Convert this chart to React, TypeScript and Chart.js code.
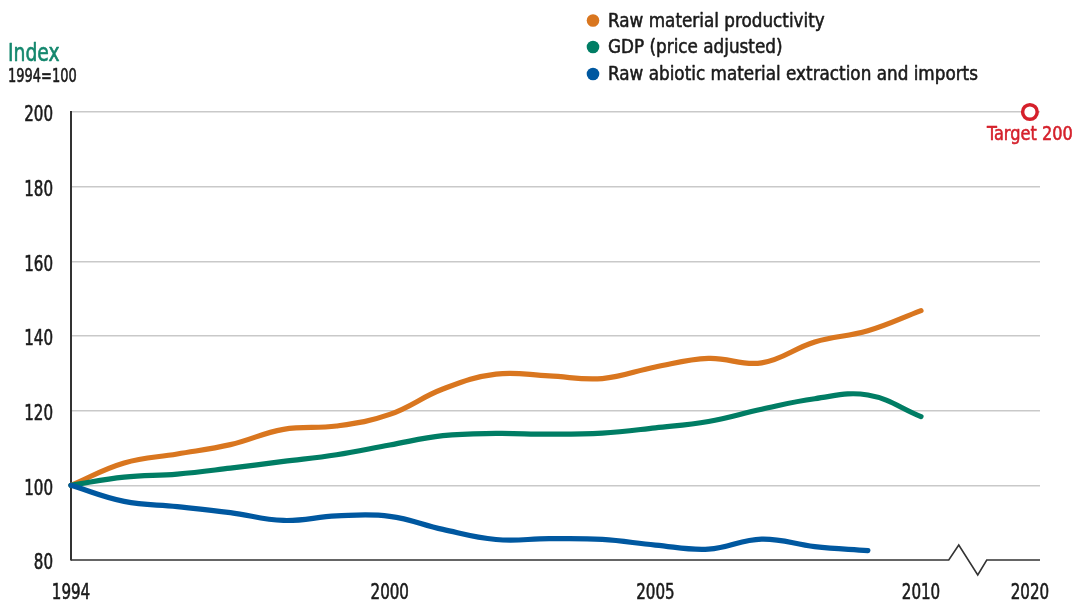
import React, { useEffect, useRef } from "react";
import { Chart, registerables } from "chart.js";

Chart.register(...registerables);

// ---- data ----
const YEARS = [1994, 1995, 1996, 1997, 1998, 1999, 2000, 2001, 2002, 2003, 2004, 2005, 2006, 2007, 2008, 2009, 2010];
const PRODUCTIVITY = [100, 106.0, 108.4, 110.9, 115.0, 115.9, 119.0, 125.8, 129.8, 129.3, 128.6, 131.7, 134.0, 132.8, 138.4, 141.4, 146.8];
const GDP = [100, 102.2, 103.0, 104.6, 106.4, 108.2, 110.8, 113.3, 113.9, 113.7, 114.0, 115.4, 117.1, 120.4, 123.2, 124.2, 118.4];
const EXTRACTION = [100, 95.7, 94.3, 92.7, 90.6, 91.8, 91.7, 88.2, 85.5, 85.7, 85.5, 84.0, 82.9, 85.6, 83.6, 82.5];
const SERIES_LABELS = ["Raw material productivity", "GDP (price adjusted)", "Raw abiotic material extraction and imports"];
const SERIES_COLORS = ["#d9761f", "#007d64", "#0058a0"];
const Y_TICKS = [80, 100, 120, 140, 160, 180, 200];
const X_TICK_YEARS = [1994, 2000, 2005, 2010, 2020];
const TARGET_YEAR = 2020;
const TARGET_VALUE = 200;
const TARGET_LABEL = "Target 200";
const TARGET_COLOR = "#d5202b";
const AXIS_TITLE = "Index";
const AXIS_SUBTITLE = "1994=100";

// axis break: years hidden between 2010 and 2020
const HIDDEN_YEARS = 7.95;
const BREAK_YEAR = 2010.88;
const X_MIN = 1994;
const X_MAX = 2012.24;
const toAxis = (yr: number) => (yr > 2011 ? yr - HIDDEN_YEARS : yr);
const fromAxis = (v: number) => (v > 2011.5 ? v + HIDDEN_YEARS : v);

const FONT = '"DejaVu Sans Condensed", "DejaVu Sans", sans-serif';
const TICK_SX = 0.8; // horizontal condensing of the typeface
const TEXT_STROKE = 0.55;

// draw text horizontally condensed (the original uses a condensed face)
function installCondensedText(ctx: any) {
  if (ctx.__condensed) return;
  ctx.__condensed = true;
  ctx.__sx = TICK_SX;
  const wrap = (orig: any) =>
    function (this: any, text: string, x: number, y: number, maxWidth?: number) {
      const sx = this.__sx || 1;
      this.save();
      this.translate(x, y);
      this.scale(sx, 1);
      if (maxWidth === undefined) orig.call(this, text, 0, 0);
      else orig.call(this, text, 0, 0, maxWidth / sx);
      this.restore();
    };
  ctx.fillText = wrap(ctx.fillText);
  ctx.strokeText = wrap(ctx.strokeText);
}

function boldText(ctx: any, text: string, x: number, y: number) {
  ctx.strokeStyle = ctx.fillStyle;
  ctx.lineWidth = TEXT_STROKE;
  ctx.lineJoin = "round";
  ctx.strokeText(text, x, y);
  ctx.fillText(text, x, y);
}

const decorPlugin = {
  id: "decor",
  beforeDraw(chart: any) {
    installCondensedText(chart.ctx);
    chart.ctx.__sx = TICK_SX;
  },
  beforeDatasetsDraw(chart: any) {
    const { ctx, chartArea, scales } = chart;
    const y0 = scales.y.getPixelForValue(80);
    const bx = scales.x.getPixelForValue(BREAK_YEAR);
    ctx.save();
    ctx.strokeStyle = "#333333";
    ctx.lineWidth = 1.6;
    ctx.lineJoin = "miter";
    ctx.beginPath();
    ctx.moveTo(chartArea.left, y0);
    ctx.lineTo(bx - 19, y0);
    ctx.lineTo(bx - 9, y0 - 15);
    ctx.lineTo(bx + 10, y0 + 15);
    ctx.lineTo(bx + 19, y0);
    ctx.lineTo(chartArea.right, y0);
    ctx.stroke();
    ctx.restore();
  },
  afterDraw(chart: any) {
    const { ctx, scales } = chart;
    ctx.save();
    // axis title
    ctx.textBaseline = "alphabetic";
    ctx.textAlign = "left";
    ctx.fillStyle = "#13876d";
    ctx.font = `24px ${FONT}`;
    ctx.__sx = 0.87;
    boldText(ctx, AXIS_TITLE, 8, 61);
    ctx.fillStyle = "#1a1a1a";
    ctx.font = `19px ${FONT}`;
    ctx.__sx = 0.76;
    boldText(ctx, AXIS_SUBTITLE, 8, 82);
    // legend
    const ly = [20.5, 47, 74];
    ctx.__sx = 0.935;
    SERIES_LABELS.forEach((lab, i) => {
      ctx.fillStyle = SERIES_COLORS[i];
      ctx.beginPath();
      ctx.arc(593, ly[i], 6.3, 0, Math.PI * 2);
      ctx.fill();
      ctx.fillStyle = "#1a1a1a";
      ctx.font = `20px ${FONT}`;
      ctx.textBaseline = "middle";
      boldText(ctx, lab, 608, ly[i] + 1);
    });
    // target label
    const tx = scales.x.getPixelForValue(toAxis(TARGET_YEAR));
    const ty = scales.y.getPixelForValue(TARGET_VALUE);
    ctx.fillStyle = TARGET_COLOR;
    ctx.font = `20px ${FONT}`;
    ctx.__sx = 0.9;
    ctx.textAlign = "center";
    ctx.textBaseline = "middle";
    boldText(ctx, TARGET_LABEL, tx, ty + 23);
    ctx.__sx = TICK_SX;
    ctx.restore();
  },
};

export default function App() {
  const ref = useRef<HTMLCanvasElement | null>(null);
  useEffect(() => {
    if (!ref.current) return;
    const mk = (vals: number[]) => vals.map((v, i) => ({ x: YEARS[i], y: v }));
    const lineDs = (i: number, vals: number[]) => ({
      label: SERIES_LABELS[i],
      data: mk(vals),
      borderColor: SERIES_COLORS[i],
      backgroundColor: SERIES_COLORS[i],
      borderWidth: 5.2,
      borderCapStyle: "round",
      borderJoinStyle: "round",
      tension: 0.4,
      pointRadius: 0,
      clip: false,
    });
    const tickFont = { family: FONT, size: 21 };
    const chart = new Chart(ref.current, {
      type: "line",
      data: {
        datasets: [
          lineDs(2, EXTRACTION),
          lineDs(1, GDP),
          lineDs(0, PRODUCTIVITY),
          {
            label: TARGET_LABEL,
            data: [{ x: toAxis(TARGET_YEAR), y: TARGET_VALUE }],
            showLine: false,
            pointRadius: 7.3,
            pointBorderWidth: 3.5,
            pointBorderColor: TARGET_COLOR,
            pointBackgroundColor: "#ffffff",
            clip: false,
          } as any,
        ] as any,
      },
      options: {
        animation: false,
        responsive: false,
        maintainAspectRatio: false,
        layout: { padding: { top: 112, right: 42, left: 0, bottom: 0 } },
        plugins: { legend: { display: false }, tooltip: { enabled: false }, title: { display: false } },
        scales: {
          x: {
            type: "linear",
            min: X_MIN,
            max: X_MAX,
            grid: { display: false },
            border: { display: false },
            afterBuildTicks: (s: any) => {
              s.ticks = X_TICK_YEARS.map((y) => ({ value: toAxis(y) }));
            },
            afterFit: (s: any) => {
              s.height = 43;
            },
            ticks: {
              autoSkip: false,
              maxRotation: 0,
              padding: 13,
              color: "#1a1a1a",
              textStrokeColor: "#1a1a1a",
              textStrokeWidth: TEXT_STROKE,
              font: tickFont,
              callback: (v: any) => String(Math.round(fromAxis(Number(v)))),
            },
          },
          y: {
            min: 80,
            max: 200,
            afterBuildTicks: (s: any) => {
              s.ticks = Y_TICKS.map((v) => ({ value: v }));
            },
            afterFit: (s: any) => {
              s.width = 71;
            },
            grid: {
              color: (c: any) => (c.tick && c.tick.value === 80 ? "rgba(0,0,0,0)" : "#c9c9c9"),
              lineWidth: 1.6,
              drawTicks: false,
            },
            border: { display: true, color: "#333333", width: 2 },
            ticks: {
              padding: 18,
              labelOffset: 4,
              color: "#1a1a1a",
              textStrokeColor: "#1a1a1a",
              textStrokeWidth: TEXT_STROKE,
              font: tickFont,
            },
          },
        },
      },
      plugins: [decorPlugin],
    } as any);
    return () => chart.destroy();
  }, []);
  return (
    <div style={{ position: "absolute", left: 0, top: 0, width: 1082, height: 603, background: "#fff" }}>
      <canvas ref={ref} width={1082} height={603} style={{ display: "block", width: 1082, height: 603 }} />
    </div>
  );
}
